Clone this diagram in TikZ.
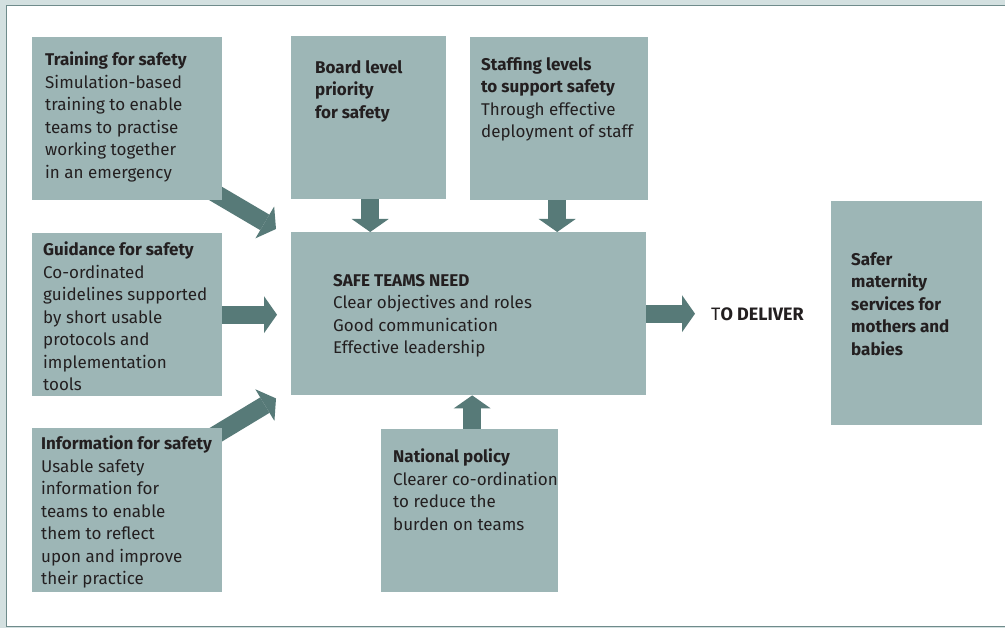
\documentclass[tikz,border=0pt]{standalone}
\usepackage{fontspec}
\setmainfont{Fira Sans}
\usetikzlibrary{positioning,arrows.meta}

\definecolor{boxgrey}{HTML}{9DB6B6}
\definecolor{flowgrey}{HTML}{577A78}
\definecolor{framegrey}{HTML}{6F8B8B}
\definecolor{bandgrey}{HTML}{D3E0E0}
\definecolor{inkgrey}{HTML}{231F20}

\pgfdeclarelayer{back}
\pgfsetlayers{back,main}

\tikzset{
  box/.style={fill=boxgrey, inner sep=0pt, anchor=north west},
  txt/.style={inner sep=0pt, align=left, text=inkgrey, font=\fontsize{17}{22.5}\selectfont},
  flow/.style={draw=flowgrey, line width=18pt, -{Triangle[width=37pt,length=13pt,line width=0pt]}}
}

\begin{document}
\begin{tikzpicture}[x=1pt,y=-1pt]
\useasboundingbox (0,0) rectangle (1005,628);

% Boxes
\node[box, minimum width=190pt, minimum height=163pt] (training) at (32,37) {};
\node[box, minimum width=155pt, minimum height=163pt] (board) at (291,36) {};
\node[box, minimum width=178pt, minimum height=163pt] (staffing) at (470,37) {};
\node[box, minimum width=355pt, minimum height=163pt] (safe) at (291,232) {};
\node[box, minimum width=190pt, minimum height=163pt] (guidance) at (32,233) {};
\node[box, minimum width=190pt, minimum height=164pt] (information) at (32,428) {};
\node[box, minimum width=177pt, minimum height=163pt] (national) at (381,429) {};
\node[box, minimum width=151pt, minimum height=224pt] (safer) at (831,201) {};

% Texts
\node[txt, below right=15pt and 13pt of training.north west] (training-t)
  {\textbf{Training for safety}\\Simulation-based\\training to enable\\teams to practise\\working together\\in an emergency};
\node[txt, font=\fontsize{17}{22.5}\selectfont\bfseries, below right=24pt and 24pt of board.north west] (board-t)
  {Board level\\priority\\for safety};
\node[txt, below right=20pt and 11pt of staffing.north west] (staffing-t)
  {\textbf{Staffing levels}\\\textbf{to support safety}\\Through effective\\deployment of staff};
\node[txt, below right=42pt and 42pt of safe.north west] (safe-t)
  {\textbf{SAFE TEAMS NEED}\\Clear objectives and roles\\Good communication\\Effective leadership};
\node[txt, below right=9pt and 11pt of guidance.north west] (guidance-t)
  {\textbf{Guidance for safety}\\Co-ordinated\\guidelines supported\\by short usable\\protocols and\\implementation\\tools};
\node[txt, below right=8pt and 9pt of information.north west] (information-t)
  {\textbf{Information for safety}\\Usable safety\\information for\\teams to enable\\them to reflect\\upon and improve\\their practice};
\node[txt, below right=20pt and 12pt of national.north west] (national-t)
  {\textbf{National policy}\\Clearer co-ordination\\to reduce the\\burden on teams};
\node[txt, font=\fontsize{17}{22.5}\selectfont\bfseries, below right=51pt and 20pt of safer.north west] (safer-t)
  {Safer\\maternity\\services for\\mothers and\\babies};
\node[txt, font=\fontsize{18}{22.5}\selectfont, anchor=base west] (deliver) at (711,321) {T\textbf{O DELIVER}};

\begin{pgfonlayer}{back}
  % Frame
  \fill[bandgrey] (0,0) rectangle (1005,628);
  \fill[white] (6.5,5.5) rectangle (1005,626.5);
  \draw[framegrey, line width=1.5pt] (1005,5.5) -- (6.5,5.5) -- (6.5,626.5) -- (1005,626.5);

  % Arrows into the team box
  \draw[flow] ([xshift=-12pt,yshift=10pt]training.south east) -- ([xshift=-15pt,yshift=3pt]safe.north west);
  \draw[flow, shorten >=14pt] (guidance.east) -- (guidance.east -| safe.west);
  \draw[flow] ([xshift=-12pt,yshift=-10pt]information.north east) -- ([xshift=-15pt,yshift=-3pt]safe.south west);
  \draw[flow] ([xshift=1.5pt]board.south) -- ([xshift=1.5pt]board.south |- safe.north);
  \draw[flow] ([xshift=-2pt]staffing.south) -- ([xshift=-2pt]staffing.south |- safe.north);
  \draw[flow] ([xshift=2.5pt]national.north) -- ([xshift=2.5pt]national.north |- safe.south);
  \draw[flow, shorten >=16pt] (safe.east) -- (safe.east -| deliver.west);
\end{pgfonlayer}
\end{tikzpicture}
\end{document}
